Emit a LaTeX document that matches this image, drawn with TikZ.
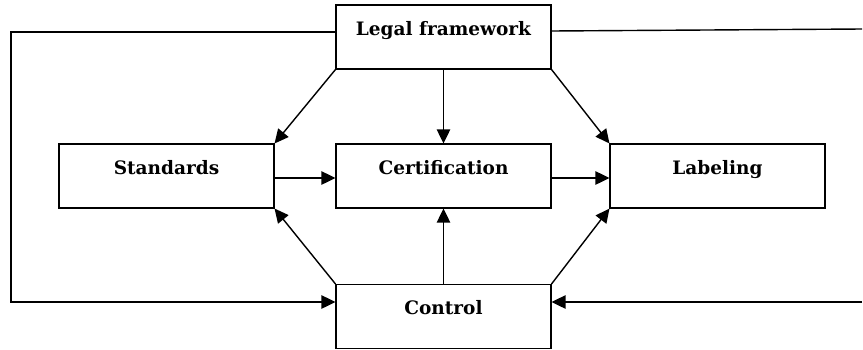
\documentclass[tikz,border=0pt]{standalone}
\usepackage{fontspec}
\setmainfont{DejaVu Serif}
\usepackage{tikz}
\usetikzlibrary{arrows.meta,positioning,calc}

\begin{document}
\begin{tikzpicture}[>={Triangle[length=0.42cm,width=0.4cm]},line width=1.2pt,
  box/.style={rectangle,draw,line width=0.9pt,minimum width=6.45cm,inner xsep=0pt,inner ysep=0pt,
    text height=0.9cm,text depth=1.02cm,font=\fontsize{15.8}{19}\selectfont\bfseries}]
\useasboundingbox (0,0) rectangle (25.89,-10.47);
\node[box] (legal) at (13.305,-1.11) {Legal framework};
\node[box] (std) at (4.995,-5.28) {Standards};
\node[box] (cert) at (13.305,-5.28) {Certification};
\node[box] (lab) at (21.525,-5.28) {Labeling};
\node[box] (ctrl) at (13.305,-9.495) {Control};
\coordinate (lt) at (0.33,-0.96);
\coordinate (rt) at (25.86,-0.87);
\coordinate (rb) at (25.86,-9.06);
\draw[->] ([yshift=0.15cm]legal.west) -- (lt) |- ([yshift=0.435cm]ctrl.west);
\draw ([yshift=0.18cm]legal.east) -- (rt);
\draw[->] (rb) -- ([yshift=0.435cm]ctrl.east);
\draw[->] (legal.south west) -- (std.north east);
\draw[->] (legal) -- (cert);
\draw[->] (legal.south east) -- (lab.north west);
\draw[->] ([yshift=-0.06cm]std.east) -- ([yshift=-0.06cm]cert.west);
\draw[->] ([yshift=-0.06cm]cert.east) -- ([yshift=-0.06cm]lab.west);
\draw[->] (ctrl.north west) -- (std.south east);
\draw[->] (ctrl) -- (cert);
\draw[->] (ctrl.north east) -- (lab.south west);
\end{tikzpicture}
\end{document}
